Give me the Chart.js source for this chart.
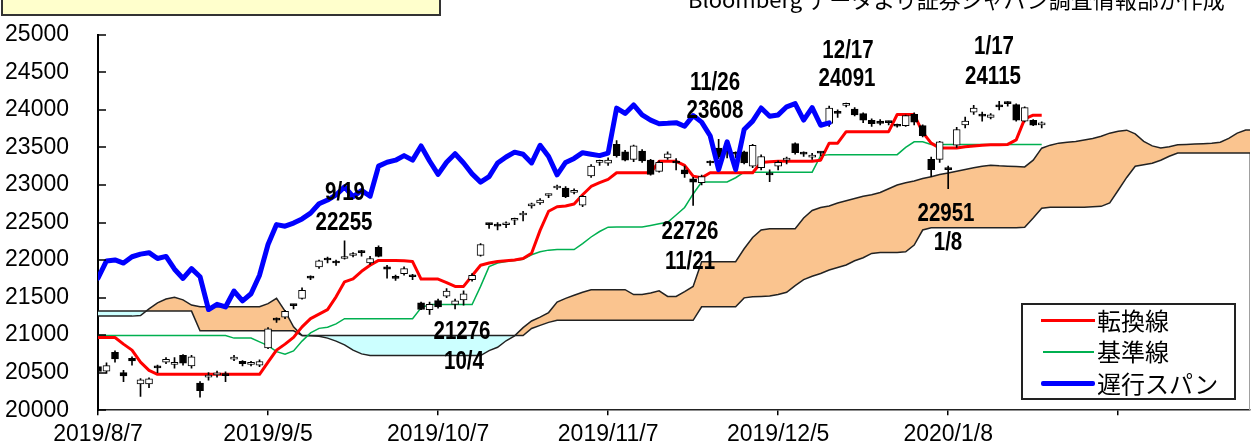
<!DOCTYPE html>
<html>
<head>
<meta charset="utf-8">
<script src="https://cdn.jsdelivr.net/npm/chart.js@4.4.1/dist/chart.umd.min.js"></script>
<style>
html, body { margin: 0; padding: 0; background: #fff; overflow: hidden; }
#wrap { position: relative; width: 1251px; height: 445px; overflow: hidden; }
#c { position: absolute; left: 0; top: 0; }
#titlebox { position: absolute; left: 1px; top: -20px; width: 436px; height: 32px; background: #ffffcc; border: 2px solid #333; }
#credit { position: absolute; left: 688px; top: -13px; font-family: "Noto Sans CJK JP", sans-serif; font-size: 22px; line-height: 22px; white-space: nowrap; color: #000; }
.note { position: absolute; font-family: "Liberation Sans", Arial, sans-serif; font-weight: bold; font-size: 25px; line-height: 25px; transform: translate(-50%, -50%) scaleX(0.82); white-space: nowrap; color: #000; }
#legend { position: absolute; left: 1021px; top: 303px; width: 211px; height: 93px; border: 2px solid #222; background: #fff; }
.sw { position: absolute; }
.lt { position: absolute; left: 74px; font-family: "Noto Sans CJK JP", sans-serif; font-size: 24px; line-height: 24px; white-space: nowrap; transform: translateY(-55%); }
</style>
</head>
<body>
<div id="wrap">
  <canvas id="c" width="1251" height="445"></canvas>
  <div id="titlebox"></div>
  <div id="credit">Bloomberg データより証券ジャパン調査情報部が作成</div>
  <div class="note" style="left:345px;top:191px">9/19</div>
  <div class="note" style="left:344px;top:221px">22255</div>
  <div class="note" style="left:462px;top:330px">21276</div>
  <div class="note" style="left:464px;top:360px">10/4</div>
  <div class="note" style="left:690px;top:230px">22726</div>
  <div class="note" style="left:690px;top:260px">11/21</div>
  <div class="note" style="left:715px;top:81px">11/26</div>
  <div class="note" style="left:715px;top:109px">23608</div>
  <div class="note" style="left:848px;top:49px">12/17</div>
  <div class="note" style="left:847px;top:77px">24091</div>
  <div class="note" style="left:994px;top:45px">1/17</div>
  <div class="note" style="left:993px;top:75px">24115</div>
  <div class="note" style="left:946px;top:212px">22951</div>
  <div class="note" style="left:948px;top:241px">1/8</div>
  <div id="legend">
    <div class="sw" style="left:18px;top:14px;width:54px;height:3px;background:#ff0000"></div>
    <div class="lt" style="top:16px">転換線</div>
    <div class="sw" style="left:20px;top:46px;width:51px;height:2px;background:#00b050"></div>
    <div class="lt" style="top:47px">基準線</div>
    <div class="sw" style="left:18px;top:76px;width:54px;height:5px;border-radius:2px;background:#0000ff"></div>
    <div class="lt" style="top:79px">遅行スパン</div>
  </div>
</div>
<script>
// x positions are trading-day indexes starting at 2019/8/7
const tickPos = [0, 20, 40, 60, 80, 100, 120];
const tickLabels = ["2019/8/7", "2019/9/5", "2019/10/7", "2019/11/7", "2019/12/5", "2020/1/8", ""];

const dates = ["8/7","8/8","8/9","8/13","8/14","8/15","8/16","8/19","8/20","8/21",
  "8/22","8/23","8/26","8/27","8/28","8/29","8/30","9/2","9/3","9/4",
  "9/5","9/6","9/9","9/10","9/11","9/12","9/13","9/17","9/18","9/19",
  "9/20","9/24","9/25","9/26","9/27","9/30","10/1","10/2","10/3","10/4",
  "10/7","10/8","10/9","10/10","10/11","10/15","10/16","10/17","10/18","10/21",
  "10/23","10/24","10/25","10/28","10/29","10/30","10/31","11/1","11/5","11/6",
  "11/7","11/8","11/11","11/12","11/13","11/14","11/15","11/18","11/19","11/20",
  "11/21","11/22","11/25","11/26","11/27","11/28","11/29","12/2","12/3","12/4",
  "12/5","12/6","12/9","12/10","12/11","12/12","12/13","12/16","12/17","12/18",
  "12/19","12/20","12/23","12/24","12/25","12/26","12/27","12/30","1/6","1/7",
  "1/8","1/9","1/10","1/14","1/15","1/16","1/17","1/20","1/21","1/22",
  "1/23","1/24"];

const opens = [20580,20520,20770,20500,20690,20350,20350,20590,20640,20610,
  20730,20590,20360,20440,20470,20480,20680,20650,20610,20600,
  20830,21210,21240,21400,21490,21780,21910,22010,21970,22020,
  22060,22100,21960,22170,21910,21780,21820,21790,21430,21340,
  21460,21520,21410,21470,21740,22060,22480,22460,22470,22530,
  22600,22720,22760,22860,22960,22960,22900,22730,23120,23300,
  23290,23540,23440,23340,23450,23330,23180,23360,23300,23200,
  23080,23030,23300,23490,23470,23430,23440,23250,23230,23140,
  23250,23330,23550,23420,23370,23430,23820,23980,24060,24010,
  23950,23860,23850,23840,23800,23790,23940,23790,23340,23340,
  23217,23530,23800,23970,23940,23900,24050,24100,24070,23850,
  23860,23800];
const highs = [20620,20630,20790,20530,20710,20420,20430,20600,20700,20700,
  20740,20730,20380,20500,20520,20510,20730,20660,20650,20670,
  21100,21230,21330,21410,21630,21790,22000,22040,22000,22255,
  22100,22130,22050,22190,21930,21800,21910,21810,21440,21440,
  21480,21620,21480,21590,21820,22220,22490,22500,22510,22560,
  22650,22760,22820,22880,23000,22980,22950,22860,23270,23330,
  23360,23590,23460,23530,23470,23340,23320,23440,23350,23250,
  23100,23130,23320,23608,23480,23440,23450,23540,23400,23200,
  23320,23370,23560,23440,23420,23440,24050,24000,24091,24030,
  23960,23880,23870,23850,23810,23930,23960,23800,23370,23580,
  23250,23767,23903,24059,23970,23950,24115,24110,24080,24040,
  23870,23840];
const lows = [20440,20490,20640,20380,20600,20184,20300,20500,20620,20560,
  20600,20560,20173,20400,20440,20380,20660,20590,20590,20580,
  20820,21170,21220,21350,21480,21740,21890,21960,21930,22010,
  22040,22050,21940,22040,21760,21730,21800,21740,21340,21276,
  21360,21500,21350,21400,21720,22050,22420,22400,22430,22470,
  22520,22690,22740,22830,22940,22830,22880,22710,23100,23260,
  23260,23370,23320,23310,23300,23130,23170,23340,23200,23100,
  22726,23000,23260,23350,23360,23360,23280,23230,23200,23044,
  23200,23280,23410,23380,23340,23390,23780,23900,24040,23920,
  23830,23780,23800,23800,23770,23780,23800,23640,23110,23300,
  22951,23500,23760,23940,23850,23880,24000,24050,23850,23840,
  23790,23760];
const closes = [20516,20593,20684,20455,20655,20405,20418,20563,20677,20618,
  20628,20711,20261,20456,20479,20460,20704,20620,20625,20649,
  21085,21199,21318,21392,21597,21759,21988,22001,21960,22044,
  22079,22098,22020,22048,21878,21755,21885,21778,21341,21410,
  21375,21587,21456,21551,21798,22207,22472,22451,22492,22548,
  22625,22750,22799,22867,22974,22843,22927,22850,23251,23303,
  23330,23391,23331,23520,23319,23141,23303,23416,23292,23148,
  23038,23112,23292,23373,23437,23409,23293,23529,23379,23135,
  23300,23354,23430,23410,23391,23424,24023,23952,24066,23934,
  23864,23816,23821,23830,23782,23924,23837,23656,23204,23575,
  23204,23739,23850,24025,23916,23933,24041,24083,23864,24031,
  23795,23827];

// 転換線 / 基準線, one value per trading day
const tenkan = [20968,20968,20968,20880,20800,20640,20530,20478,20478,20478,
  20478,20478,20478,20478,20478,20478,20478,20478,20478,20478,
  20640,20800,20880,20970,21110,21220,21280,21340,21510,21710,
  21750,21850,21930,21995,21995,21995,21990,21980,21746,21746,
  21746,21700,21649,21649,21790,21930,21960,21980,21990,22000,
  22020,22090,22395,22650,22710,22720,22746,22870,22980,23030,
  23075,23162,23162,23162,23162,23162,23315,23315,23315,23260,
  23118,23096,23162,23162,23162,23162,23162,23162,23300,23310,
  23315,23315,23315,23315,23315,23330,23557,23557,23710,23710,
  23710,23710,23710,23710,23938,23938,23938,23700,23557,23491,
  23491,23491,23510,23520,23530,23535,23535,23540,23600,23880,
  23930,23930];
const kijun = [20995,20995,20995,20995,20995,20995,20995,20995,20995,20995,
  20995,20995,20995,20995,20995,20995,20960,20960,20960,20910,
  20860,20780,20745,20790,20920,21030,21090,21105,21150,21219,
  21219,21219,21219,21219,21219,21219,21219,21219,21364,21408,
  21408,21408,21408,21408,21408,21649,21912,21960,21980,21995,
  22009,22070,22110,22132,22140,22140,22140,22220,22307,22380,
  22438,22440,22440,22440,22440,22460,22482,22504,22600,22700,
  22880,23040,23040,23040,23040,23096,23170,23170,23170,23170,
  23170,23170,23170,23170,23170,23390,23404,23404,23404,23404,
  23404,23404,23404,23404,23404,23500,23575,23575,23540,23540,
  23540,23540,23540,23540,23540,23540,23540,23540,23540,23540,
  23540,23540];

// 先行スパン1 / 2, already shifted forward (index 0 = 2019/8/7)
const spanA = [21253,21253,21253,21253,21253,21260,21350,21430,21480,21505,
  21470,21400,21377,21377,21377,21377,21377,21377,21377,21377,
  21420,21490,21320,21110,20995,20990,20985,20960,20920,20870,
  20800,20750,20728,20728,20728,20728,20728,20728,20728,20728,
  20728,20728,20728,20728,20728,20728,20793,20838,20925,20990,
  21100,21188,21240,21300,21440,21490,21530,21570,21605,21605,
  21605,21605,21605,21540,21540,21560,21590,21516,21516,21580,
  21649,21978,21978,21978,21978,21978,22150,22300,22400,22417,
  22417,22417,22417,22560,22660,22700,22720,22760,22790,22820,
  22850,22870,22899,22950,23000,23030,23053,23085,23110,23140,
  23160,23184,23206,23228,23250,23263,23255,23250,23245,23240,
  23330,23490,23530,23557,23570,23580,23600,23620,23650,23690,
  23715,23730,23680,23580,23520,23491,23510,23535,23540,23545,
  23550,23555,23570,23620,23690,23733,23733];
const spanB = [21320,21320,21320,21320,21320,21320,21320,21320,21320,21320,
  21320,21320,21057,21057,21057,21057,21057,21057,21057,21057,
  21057,21057,21057,21057,20995,20995,20995,20995,20995,20995,
  20995,20995,20995,20995,20995,20995,20995,20995,20995,20995,
  20995,20995,20995,20995,20995,20995,20995,20995,20995,20995,
  20995,21088,21130,21170,21197,21197,21197,21197,21197,21197,
  21197,21197,21197,21197,21197,21197,21197,21197,21197,21197,
  21197,21377,21377,21377,21377,21377,21496,21510,21515,21520,
  21540,21570,21660,21740,21785,21820,21868,21900,21934,21990,
  22030,22088,22100,22100,22100,22110,22200,22400,22430,22430,
  22430,22430,22430,22430,22430,22430,22430,22430,22430,22438,
  22560,22690,22702,22702,22702,22702,22702,22710,22715,22760,
  22930,23100,23250,23270,23290,23330,23382,23425,23425,23425,
  23425,23425,23425,23425,23425,23425,23425];

const chikouShift = 25; // 遅行スパン: close plotted 25 days back

const pts = arr => arr.map((v, i) => ({ x: i, y: v }));
const wickData = closes.map((c, i) => ({ x: i, y: [lows[i], highs[i]] }));
const bodyData = closes.map((c, i) => ({ x: i, y: [Math.min(opens[i], c), Math.max(opens[i], c)] }));
const bodyColors = closes.map((c, i) => c >= opens[i] ? '#ffffff' : '#000000');
const chikou = closes.slice(chikouShift).map((v, i) => ({ x: i, y: v }));

const axisFont = { family: '"Liberation Sans", Arial, sans-serif', size: 23 };

const innerTicks = {
  id: 'innerTicks',
  beforeDatasetsDraw(chart) {
    const { ctx, chartArea, scales: { y } } = chart;
    const top = y.getPixelForValue(spanB[spanB.length - 1]);
    ctx.save();
    ctx.strokeStyle = '#a0a0a0';
    ctx.lineWidth = 1;
    ctx.beginPath();
    ctx.moveTo(chartArea.right - 0.5, top);
    ctx.lineTo(chartArea.right - 0.5, chartArea.bottom);
    ctx.stroke();
    ctx.restore();
  },
  afterDraw(chart) {
    const { ctx, scales: { y } } = chart;
    ctx.save();
    ctx.strokeStyle = '#000';
    ctx.lineWidth = 1.5;
    y.ticks.forEach(t => {
      const py = Math.round(y.getPixelForValue(t.value));
      ctx.beginPath();
      ctx.moveTo(y.right, py);
      ctx.lineTo(y.right + 8, py);
      ctx.stroke();
    });
    ctx.restore();
  }
};

new Chart(document.getElementById('c'), {
  type: 'line',
  data: {
    datasets: [
      { label: '遅行スパン', data: chikou, borderColor: '#0000ff', borderWidth: 5,
        pointRadius: 0, borderJoinStyle: 'round', borderCapStyle: 'round', order: 0 },
      { type: 'bar', label: 'body', data: bodyData, backgroundColor: bodyColors,
        borderColor: '#000', borderWidth: 1, borderSkipped: false, barThickness: 7,
        minBarLength: 2, grouped: false, order: 1 },
      { type: 'bar', label: 'wick', data: wickData, backgroundColor: '#000',
        barThickness: 1, grouped: false, order: 2 },
      { label: '転換線', data: pts(tenkan), borderColor: '#ff0000', borderWidth: 3,
        pointRadius: 0, borderJoinStyle: 'round', order: 3 },
      { label: '基準線', data: pts(kijun), borderColor: '#00b050', borderWidth: 1.5,
        pointRadius: 0, order: 4 },
      { label: '先行スパン1', data: pts(spanA), borderColor: '#222', borderWidth: 1.5,
        pointRadius: 0, fill: { target: 6, above: '#fac48f', below: '#ccffff' }, order: 5 },
      { label: '先行スパン2', data: pts(spanB), borderColor: '#222', borderWidth: 1.5,
        pointRadius: 0, order: 6 }
    ]
  },
  options: {
    responsive: false,
    devicePixelRatio: 1,
    animation: false,
    layout: { padding: { top: 32, right: 1, left: 0, bottom: 0 } },
    plugins: {
      legend: { display: false },
      tooltip: { enabled: false },
      filler: { drawTime: 'beforeDatasetsDraw' }
    },
    scales: {
      x: {
        type: 'linear', min: 0, max: 135.5, offset: false,
        grid: { display: true, drawOnChartArea: false, drawTicks: true, tickLength: 5,
                color: '#000', lineWidth: 1.5, offset: false },
        border: { display: true, color: '#222', width: 1.5 },
        ticks: { font: axisFont, color: '#000', padding: 6, maxRotation: 0, autoSkip: false,
                 callback: (v, i) => tickLabels[i] },
        afterBuildTicks: s => { s.ticks = tickPos.map(v => ({ value: v })); },
        afterFit: s => { s.height = 33; }
      },
      y: {
        min: 20000, max: 25000,
        grid: { display: false },
        border: { display: true, color: '#000', width: 2 },
        ticks: { stepSize: 500, font: axisFont, color: '#000', padding: 21,
                 callback: v => String(v) },
        afterFit: s => { s.width = 98; }
      }
    }
  },
  plugins: [innerTicks]
});
</script>
</body>
</html>
